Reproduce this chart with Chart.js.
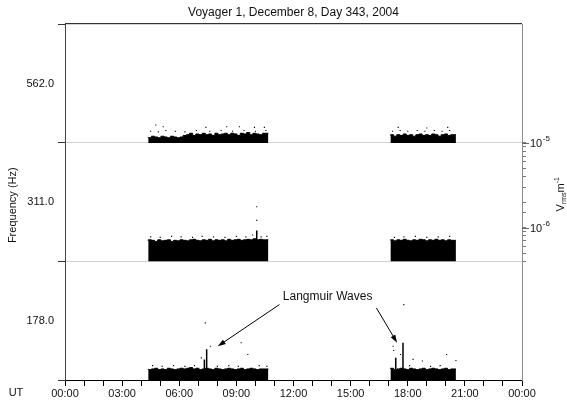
<!DOCTYPE html>
<html>
<head>
<meta charset="utf-8">
<script src="https://cdn.jsdelivr.net/npm/chart.js@4.4.1/dist/chart.umd.min.js"></script>
<style>
  html, body { margin: 0; padding: 0; background: #fff; }
  #wrap { width: 567px; height: 406px; }
</style>
</head>
<body>
<div id="wrap"><canvas id="chart" width="567" height="406"></canvas></div>
<script>
'use strict';

// Filter channels, top panel to bottom panel
const channels = ['562.0', '311.0', '178.0'];
const ampMin = 4e-7;   // V_rms/m, bottom of each panel
const ampMax = 1e-5;   // V_rms/m, top of each panel
const ampDecades = [1e-5, 1e-6];   // labelled on the right axis
const decadeExps = ['-5', '-6'];

// Hour tick labels, every 3 h
const timeLabels = ['00:00', '03:00', '06:00', '09:00', '12:00', '15:00', '18:00', '21:00', '00:00'];

// Tracking passes (hours UT), 10-minute samples
const pass1Start = 4.37, pass1End = 10.68;
const pass2Start = 17.09, pass2End = 20.53;
const sampleStep = 1 / 6;

// 562 Hz channel, V_rms/m
const top1 = [4.7e-7, 4.6e-7, 4.8e-7, 4.7e-7, 4.6e-7, 4.8e-7, 4.7e-7, 4.6e-7, 4.8e-7, 4.7e-7,
  4.6e-7, 4.7e-7, 4.9e-7, 5.0e-7, 5.2e-7, 4.9e-7, 5.1e-7, 5.0e-7, 5.2e-7, 5.0e-7,
  5.1e-7, 4.9e-7, 5.2e-7, 5.0e-7, 5.1e-7, 5.2e-7, 5.0e-7, 5.2e-7, 5.1e-7, 4.9e-7,
  5.2e-7, 5.1e-7, 5.3e-7, 5.0e-7, 5.2e-7, 5.1e-7, 5.0e-7, 5.2e-7];
const top2 = [4.9e-7, 5.0e-7, 4.8e-7, 5.0e-7, 4.9e-7, 5.1e-7, 4.9e-7, 5.0e-7, 4.8e-7, 5.0e-7,
  5.1e-7, 4.9e-7, 5.0e-7, 4.9e-7, 5.1e-7, 5.0e-7, 4.8e-7, 5.0e-7, 5.1e-7, 4.9e-7, 5.0e-7];
const topDotT = [4.50, 4.77, 4.90, 5.16, 5.30, 5.80, 6.30, 6.90, 7.40, 7.60,
  8.20, 8.49, 8.80, 9.16, 9.40, 9.95, 10.00, 10.47, 10.55,
  17.20, 17.50, 17.60, 18.00, 18.50, 18.90, 19.00, 19.40, 19.80, 20.10, 20.20];
const topDotV = [5.5e-7, 6.5e-7, 5.4e-7, 6.2e-7, 5.6e-7, 5.5e-7, 5.4e-7, 5.6e-7, 6.1e-7, 5.5e-7,
  5.6e-7, 6.2e-7, 5.5e-7, 6.2e-7, 5.6e-7, 6.1e-7, 5.5e-7, 6.1e-7, 5.6e-7,
  5.5e-7, 6.1e-7, 5.6e-7, 5.5e-7, 5.6e-7, 5.5e-7, 6.0e-7, 5.6e-7, 5.5e-7, 6.1e-7, 5.6e-7];

// 311 Hz channel
const mid1 = [7.0e-7, 7.2e-7, 7.1e-7, 6.9e-7, 7.2e-7, 7.0e-7, 7.1e-7, 7.2e-7, 6.9e-7, 7.1e-7,
  7.0e-7, 7.2e-7, 7.1e-7, 7.0e-7, 7.2e-7, 7.3e-7, 7.1e-7, 7.0e-7, 7.2e-7, 7.1e-7,
  7.3e-7, 7.0e-7, 7.2e-7, 7.1e-7, 7.2e-7, 7.0e-7, 7.3e-7, 7.1e-7, 7.2e-7, 7.3e-7,
  7.1e-7, 7.2e-7, 7.3e-7, 7.2e-7, 7.4e-7, 7.2e-7, 7.3e-7, 7.2e-7];
const mid2 = [7.1e-7, 7.2e-7, 7.0e-7, 7.2e-7, 7.1e-7, 7.3e-7, 7.1e-7, 7.0e-7, 7.2e-7, 7.1e-7,
  7.3e-7, 7.2e-7, 7.0e-7, 7.2e-7, 7.1e-7, 7.3e-7, 7.1e-7, 7.2e-7, 7.0e-7, 7.2e-7, 7.1e-7];
const midDotT = [4.50, 5.00, 5.60, 6.10, 6.70, 7.20, 7.80, 8.40, 9.00, 9.50, 9.85, 10.07, 10.07, 10.30, 10.60,
  17.30, 17.80, 18.40, 19.00, 19.60, 20.20];
const midDotV = [7.8e-7, 7.7e-7, 7.9e-7, 7.8e-7, 7.7e-7, 7.9e-7, 7.8e-7, 7.7e-7, 7.9e-7, 7.8e-7, 8.2e-7, 1.22e-6, 1.77e-6, 7.8e-7, 7.9e-7,
  7.7e-7, 7.8e-7, 7.9e-7, 7.7e-7, 7.8e-7, 7.9e-7];
const midSpikeT = [10.07];
const midSpikeBase = [7.2e-7];
const midSpikePeak = [9.3e-7];

// 178 Hz channel
const bot1 = [5.4e-7, 5.3e-7, 5.4e-7, 5.5e-7, 5.3e-7, 5.4e-7, 5.3e-7, 5.5e-7, 5.4e-7, 5.3e-7,
  5.4e-7, 5.5e-7, 5.4e-7, 5.5e-7, 5.6e-7, 5.4e-7, 5.5e-7, 5.3e-7, 5.4e-7, 5.5e-7,
  5.4e-7, 5.3e-7, 5.5e-7, 5.4e-7, 5.3e-7, 5.4e-7, 5.5e-7, 5.4e-7, 5.3e-7, 5.4e-7,
  5.5e-7, 5.3e-7, 5.4e-7, 5.5e-7, 5.4e-7, 5.3e-7, 5.4e-7, 5.4e-7];
const bot2 = [5.4e-7, 5.5e-7, 5.3e-7, 5.4e-7, 5.5e-7, 5.4e-7, 5.3e-7, 5.5e-7, 5.4e-7, 5.3e-7,
  5.4e-7, 5.5e-7, 5.3e-7, 5.4e-7, 5.5e-7, 5.4e-7, 5.3e-7, 5.4e-7, 5.5e-7, 5.3e-7, 5.4e-7];
const botDotT = [4.60, 5.10, 5.70, 6.30, 6.80, 7.16, 7.37, 7.63, 8.00, 8.60, 9.10, 9.25, 9.60, 10.20, 10.60,
  17.23, 17.26, 17.62, 17.79, 18.10, 18.28, 18.77, 19.20, 19.70, 20.04, 20.53];
const botDotV = [5.9e-7, 5.8e-7, 5.9e-7, 5.8e-7, 5.9e-7, 7.3e-7, 1.89e-6, 1.0e-6, 5.8e-7, 5.9e-7, 5.8e-7, 1.1e-6, 8.0e-7, 5.9e-7, 5.8e-7,
  1.0e-6, 8.9e-7, 8.0e-7, 3.1e-6, 5.9e-7, 7.0e-7, 6.7e-7, 5.8e-7, 5.9e-7, 8.0e-7, 6.8e-7];
const botSpikeT = [7.32, 7.44, 17.37, 17.75];
const botSpikeBase = [5.4e-7, 5.4e-7, 5.4e-7, 5.4e-7];
const botSpikePeak = [7.0e-7, 9.2e-7, 7.3e-7, 1.1e-6];

// "Langmuir Waves" note on the 178 Hz panel: [hours, V_rms/m]
const noteAt = [13.79, 3.83e-6];
const arrowTails = [[11.26, 3.1e-6], [16.35, 2.84e-6]];
const arrowHeads = [[8.02, 1.0e-6], [17.44, 1.1e-6]];

const fontFamily = "'Liberation Sans', Arial, Helvetica, sans-serif";
const ink = '#111';

function passPoints(start, end, values) {
  const pts = values.map((v, i) => ({ x: start + i * sampleStep, y: v }));
  pts.push({ x: end, y: values[values.length - 1] });
  return pts;
}

function passSet(axis, start, end, values) {
  return {
    type: 'line', yAxisID: axis, data: passPoints(start, end, values),
    stepped: 'after', fill: 'start', backgroundColor: '#000',
    borderColor: '#000', borderWidth: 1, pointRadius: 0,
  };
}

function dotSet(axis, times, values) {
  return {
    type: 'line', yAxisID: axis, showLine: false,
    data: times.map((t, i) => ({ x: t, y: values[i] })),
    pointStyle: 'rect', pointRadius: 0.8, pointBorderWidth: 0,
    pointBackgroundColor: '#000',
  };
}

function spikeSet(axis, times, base, peak) {
  const pts = [];
  times.forEach((t, i) => {
    pts.push({ x: t, y: base[i] }, { x: t, y: peak[i] }, { x: t, y: null });
  });
  return {
    type: 'line', yAxisID: axis, data: pts, spanGaps: false,
    borderColor: '#000', borderWidth: 1.5, pointRadius: 0,
  };
}

const panelMid = Math.sqrt(ampMin * ampMax);

function leftAxis(label) {
  return {
    type: 'logarithmic', position: 'left', stack: 'freq', stackWeight: 1,
    min: ampMin, max: ampMax,
    afterBuildTicks: (s) => { s.ticks = [{ value: ampMin }, { value: panelMid }, { value: ampMax }]; },
    afterFit: (s) => { s.width = 65; },
    border: { display: true, color: '#444', width: 1 },
    grid: {
      color: (c) => (c.index === 1 ? 'rgba(0,0,0,0)' : '#d2d2d2'),
      tickColor: (c) => (c.index === 1 ? 'rgba(0,0,0,0)' : '#333'),
      tickLength: 7,
    },
    ticks: {
      autoSkip: false, padding: 4, color: ink,
      font: { family: fontFamily, size: 11 },
      callback: (v, i) => (i === 1 ? label : ''),
    },
  };
}

function rightAxis(withTicks) {
  return {
    type: 'logarithmic', position: 'right', stack: 'amp', stackWeight: 1,
    min: ampMin, max: ampMax,
    afterFit: (s) => { s.width = 45; },
    border: { display: true, color: '#8a8a8a', width: 1 },
    grid: withTicks
      ? { drawOnChartArea: false, tickLength: 4, tickColor: '#777' }
      : { display: false },
    ticks: withTicks
      ? { autoSkip: false, callback: () => '' }
      : { display: false },
  };
}

const decorations = {
  id: 'decorations',
  afterDraw(chart) {
    const { ctx, chartArea, scales } = chart;
    ctx.save();

    // frame line along the top
    ctx.strokeStyle = '#333';
    ctx.lineWidth = 1;
    ctx.beginPath();
    ctx.moveTo(chartArea.left, Math.round(chartArea.top) - 0.5);
    ctx.lineTo(chartArea.right, Math.round(chartArea.top) - 0.5);
    ctx.stroke();

    ctx.fillStyle = ink;
    ctx.font = '11px ' + fontFamily;
    ctx.textBaseline = 'middle';

    // left axis title
    ctx.save();
    ctx.translate(13, (chartArea.top + chartArea.bottom) / 2 + 3);
    ctx.rotate(-Math.PI / 2);
    ctx.textAlign = 'center';
    ctx.fillText('Frequency (Hz)', 0, 0);
    ctx.restore();

    // UT prefix on the time axis
    ctx.textAlign = 'center';
    ctx.fillText('UT', 16, scales.x.top + 12.5);

    // right axis decade labels, with longer major ticks
    const mid = scales.rMid;
    ampDecades.forEach((v, i) => {
      const y = mid.getPixelForValue(v);
      ctx.strokeStyle = '#666';
      ctx.beginPath();
      ctx.moveTo(chartArea.right, Math.round(y) + 0.5);
      ctx.lineTo(chartArea.right + 7, Math.round(y) + 0.5);
      ctx.stroke();
      ctx.textAlign = 'left';
      ctx.font = '11px ' + fontFamily;
      ctx.fillText('10', chartArea.right + 8, y + 1);
      const w = ctx.measureText('10').width;
      ctx.font = '8px ' + fontFamily;
      ctx.fillText(decadeExps[i], chartArea.right + 8 + w + 0.5, y - 4);
    });

    // right axis title: V_rms m^-1
    ctx.save();
    ctx.translate(561, (mid.top + mid.bottom) / 2 - 8);
    ctx.rotate(-Math.PI / 2);
    ctx.textAlign = 'left';
    const parts = [['V', 11, 0], ['rms', 7, 3], ['m', 11, 0], ['-1', 7, -4]];
    let total = 0;
    parts.forEach(([t, sz]) => { ctx.font = sz + 'px ' + fontFamily; total += ctx.measureText(t).width; });
    let px = -total / 2;
    parts.forEach(([t, sz, dy]) => {
      ctx.font = sz + 'px ' + fontFamily;
      ctx.fillText(t, px, dy);
      px += ctx.measureText(t).width;
    });
    ctx.restore();

    // Langmuir waves note
    const xs = scales.x, ys = scales.yBot;
    ctx.font = '12px ' + fontFamily;
    ctx.textAlign = 'center';
    ctx.fillText('Langmuir Waves', xs.getPixelForValue(noteAt[0]), ys.getPixelForValue(noteAt[1]));
    ctx.strokeStyle = '#000';
    ctx.fillStyle = '#000';
    ctx.lineWidth = 1;
    arrowTails.forEach((tail, i) => {
      const x1 = xs.getPixelForValue(tail[0]), y1 = ys.getPixelForValue(tail[1]);
      const x2 = xs.getPixelForValue(arrowHeads[i][0]), y2 = ys.getPixelForValue(arrowHeads[i][1]);
      const ang = Math.atan2(y2 - y1, x2 - x1);
      ctx.beginPath();
      ctx.moveTo(x1, y1);
      ctx.lineTo(x2 - 5 * Math.cos(ang), y2 - 5 * Math.sin(ang));
      ctx.stroke();
      ctx.beginPath();
      ctx.moveTo(x2, y2);
      ctx.lineTo(x2 - 8 * Math.cos(ang) + 2.6 * Math.sin(ang), y2 - 8 * Math.sin(ang) - 2.6 * Math.cos(ang));
      ctx.lineTo(x2 - 8 * Math.cos(ang) - 2.6 * Math.sin(ang), y2 - 8 * Math.sin(ang) + 2.6 * Math.cos(ang));
      ctx.closePath();
      ctx.fill();
    });

    ctx.restore();
  },
};

new Chart(document.getElementById('chart'), {
  type: 'line',
  data: {
    datasets: [
      passSet('yTop', pass1Start, pass1End, top1),
      passSet('yTop', pass2Start, pass2End, top2),
      dotSet('yTop', topDotT, topDotV),
      passSet('yMid', pass1Start, pass1End, mid1),
      passSet('yMid', pass2Start, pass2End, mid2),
      spikeSet('yMid', midSpikeT, midSpikeBase, midSpikePeak),
      dotSet('yMid', midDotT, midDotV),
      passSet('yBot', pass1Start, pass1End, bot1),
      passSet('yBot', pass2Start, pass2End, bot2),
      spikeSet('yBot', botSpikeT, botSpikeBase, botSpikePeak),
      dotSet('yBot', botDotT, botDotV),
    ],
  },
  options: {
    responsive: false,
    animation: false,
    devicePixelRatio: 1,
    layout: { padding: 0 },
    plugins: {
      legend: { display: false },
      tooltip: { enabled: false },
      title: {
        display: true, fullSize: false,
        text: 'Voyager 1, December 8, Day 343, 2004',
        color: ink, font: { family: fontFamily, size: 12, weight: 'normal' },
        padding: { top: 5, bottom: 5 },
      },
    },
    scales: {
      x: {
        type: 'linear', min: 0, max: 24, offset: false,
        afterFit: (s) => { s.height = 26; },
        border: { display: true, color: '#000', width: 1 },
        grid: { drawOnChartArea: false, offset: false, tickLength: 6, tickColor: '#000' },
        ticks: {
          stepSize: 1, autoSkip: false, maxRotation: 0, padding: 1, color: ink,
          font: { family: fontFamily, size: 11 },
          callback: (v) => (v % 3 === 0 ? timeLabels[v / 3] : ''),
        },
      },
      yBot: leftAxis(channels[2]),
      yMid: leftAxis(channels[1]),
      yTop: leftAxis(channels[0]),
      rTop: rightAxis(false),
      rMid: rightAxis(true),
      rBot: rightAxis(false),
    },
  },
  plugins: [decorations],
});
</script>
</body>
</html>
